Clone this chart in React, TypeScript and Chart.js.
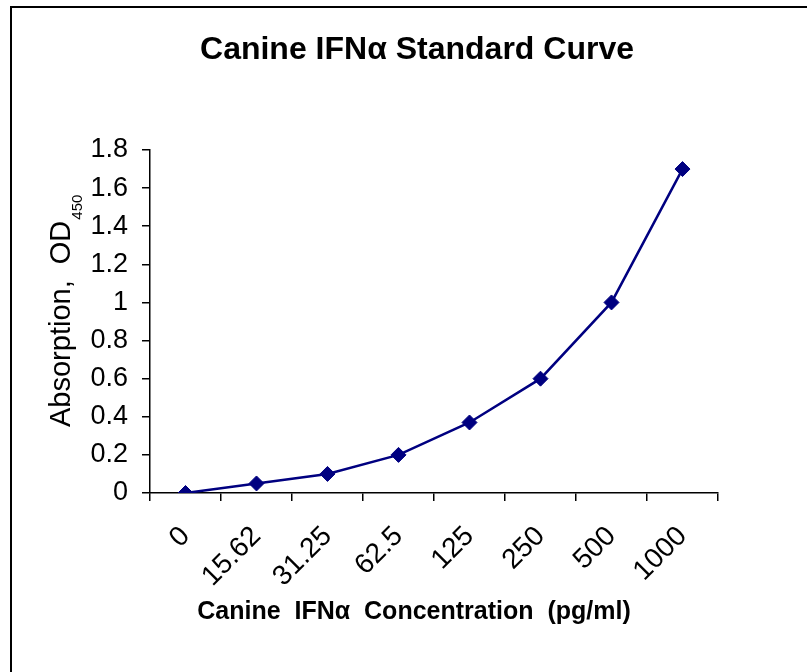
import React, { useEffect, useRef } from "react";
import { Chart, registerables } from "chart.js";

Chart.register(...registerables);

const TITLE = "Canine IFNα Standard Curve";
const X_TITLE = "Canine  IFNα  Concentration  (pg/ml)";
const Y_TITLE_MAIN = "Absorption,  OD";
const Y_TITLE_SUB = "450";

const concentrations = ["0", "15.62", "31.25", "62.5", "125", "250", "500", "1000"];
const absorbance = [0, 0.05, 0.1, 0.2, 0.37, 0.6, 1.0, 1.7];

const Y_MIN = 0;
const Y_MAX = 1.8;
const Y_STEP = 0.2;

const FONT = "'Liberation Sans', Arial, sans-serif";
const NAVY = "#000080";

const textPlugin = {
  id: "chartTexts",
  afterDraw(chart: any) {
    const ctx = chart.ctx as CanvasRenderingContext2D;
    ctx.save();
    ctx.fillStyle = "#000";
    // main title
    ctx.font = `bold 32px ${FONT}`;
    ctx.textAlign = "center";
    ctx.textBaseline = "middle";
    ctx.fillText(TITLE, 417, 50);
    // x axis title
    ctx.font = `bold 25px ${FONT}`;
    ctx.fillText(X_TITLE, 414, 612);
    // y axis title with subscript
    ctx.translate(70, 427);
    ctx.rotate(-Math.PI / 2);
    ctx.font = `29px ${FONT}`;
    ctx.textAlign = "left";
    ctx.textBaseline = "alphabetic";
    ctx.fillText(Y_TITLE_MAIN, 0, 0);
    const w = ctx.measureText(Y_TITLE_MAIN).width;
    ctx.font = `15px ${FONT}`;
    ctx.fillText(Y_TITLE_SUB, w + 1, 12);
    ctx.restore();
  },
};

export default function App() {
  const canvasRef = useRef<HTMLCanvasElement | null>(null);

  useEffect(() => {
    if (!canvasRef.current) return;
    const chart = new Chart(canvasRef.current, {
      type: "line",
      data: {
        labels: concentrations,
        datasets: [
          {
            data: absorbance,
            borderColor: NAVY,
            backgroundColor: NAVY,
            borderWidth: 2.5,
            tension: 0,
            pointStyle: "rectRot",
            pointRadius: 7.5,
            pointBorderWidth: 1,
            pointBackgroundColor: NAVY,
            pointBorderColor: NAVY,
          },
        ],
      },
      options: {
        responsive: false,
        animation: false,
        layout: { padding: { left: 29, right: 89, top: 150, bottom: 0 } },
        plugins: {
          legend: { display: false },
          tooltip: { enabled: false },
          title: { display: false },
        },
        scales: {
          x: {
            type: "category",
            offset: true,
            afterFit(scale: any) {
              scale.height = 179;
            },
            grid: {
              offset: true,
              drawOnChartArea: false,
              drawTicks: true,
              tickLength: 8,
              color: "#000",
              lineWidth: 1.5,
            },
            border: { display: true, color: "#000", width: 1.5 },
            ticks: {
              color: "#000",
              font: { family: FONT, size: 28 },
              minRotation: 45,
              maxRotation: 45,
              autoSkip: false,
              padding: 19,
            },
          },
          y: {
            min: Y_MIN,
            max: Y_MAX,
            afterFit(scale: any) {
              scale.width = 121;
            },
            grid: {
              drawOnChartArea: false,
              drawTicks: true,
              tickLength: 8,
              color: "#000",
              lineWidth: 1.5,
            },
            border: { display: true, color: "#000", width: 1.5 },
            ticks: {
              stepSize: Y_STEP,
              color: "#000",
              font: { family: FONT, size: 27 },
              padding: 14,
              callback: (v: any) => String(Number(Number(v).toFixed(1))),
            },
          },
        },
      },
      plugins: [textPlugin],
    });
    return () => chart.destroy();
  }, []);

  return (
    <div
      style={{
        position: "fixed",
        left: 0,
        top: 0,
        width: 807,
        height: 672,
        overflow: "hidden",
        background: "#fff",
      }}
    >
      <div
        style={{
          position: "absolute",
          left: 10,
          top: 6,
          width: 1000,
          height: 1000,
          borderLeft: "2px solid #000",
          borderTop: "2px solid #000",
        }}
      />
      <canvas
        ref={canvasRef}
        width={807}
        height={672}
        style={{ position: "absolute", left: 0, top: 0, width: 807, height: 672 }}
      />
    </div>
  );
}
